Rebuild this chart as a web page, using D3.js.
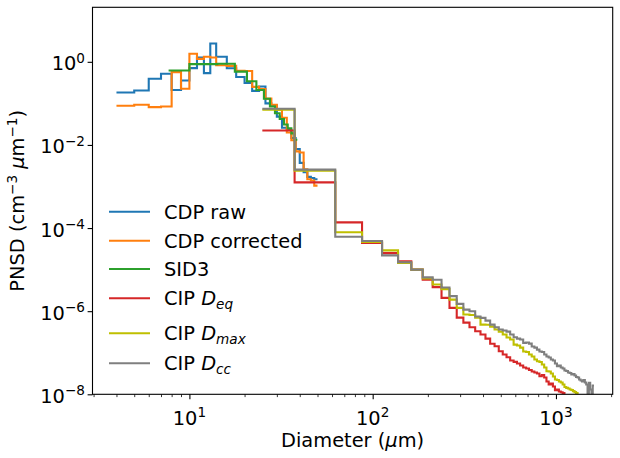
<!DOCTYPE html>
<html>
<head>
<meta charset="utf-8">
<title>PNSD</title>
<script src="https://d3js.org/d3.v7.min.js"></script>
<style>
  body { margin: 0; background: #fff; }
  text { font-family: "DejaVu Sans", sans-serif; fill: #000; }
</style>
</head>
<body>
<svg width="620" height="458"></svg>
<script>
// bin edges (um) and PNSD values (cm^-3 um^-1)
var cdpEdges = [4,5,6,7,8,9,10,11,12,13,14,16,18,20,22,24,26,28,30,32,34,36,38,40,42,44,46,48,50];
var cdpRaw = [0.183,0.204,0.39,0.515,0.209,0.355,0.706,1.27,0.535,2.75,1.32,0.70,0.43,0.31,0.20,
              0.255,0.10,0.089,0.048,0.026,0.023,0.0147,0.008,0.0037,0.0022,0.0017,0.0016,0.0015];
var cdpCorrected = [0.0875,0.0925,0.0814,0.084,0.565,0.224,1.56,1.18,1.32,1.27,0.83,0.80,0.61,0.60,0.25,
                    0.22,0.13,0.093,0.07,0.045,0.02,0.013,0.007,0.0066,0.0026,0.0015,0.0014,0.00105];

var sidEdges = [7.7,10,14.2,17.7,20.6,23.2,25.5,27.5,29.3,31.1,32.8,34.4,36,37.5,38.8];
var sid3 = [0.62,0.88,0.90,0.58,0.34,0.21,0.129,0.084,0.058,0.042,0.031,0.025,0.019,0.0133];

var cipEdges = [25,37.5,62.5,87.5,112.5,137.5,162.5,187.5,212.5,237.5,262.5,287.5,312.5,337.5,362.5,
  387.5,412.5,437.5,462.5,487.5,512.5,537.5,562.5,587.5,612.5,637.5,662.5,687.5,712.5,737.5,762.5,
  787.5,812.5,837.5,862.5,887.5,912.5,937.5,962.5,987.5,1012.5,1037.5,1062.5,1087.5,1112.5,1137.5,
  1162.5,1187.5,1212.5,1237.5,1262.5,1287.5,1312.5,1337.5,1362.5,1387.5,1412.5,1437.5,1462.5,1487.5,
  1512.5,1537.5,1562.5,1587.5,1612.5];
var cipDeq = [0.0223,1.26e-3,1.37e-4,4.4e-5,2.5e-5,1.58e-5,1e-5,5.7e-6,3.8e-6,2.09e-6,
  1.2e-6,7.0e-7,5.3e-7,4.1e-7,3.29e-7,2.74e-7,2.19e-7,1.64e-7,1.43e-7,1.09e-7,
  9.05e-8,7.8e-8,6.5e-8,6.04e-8,5.5e-8,4.92e-8,4.4e-8,4.17e-8,3.84e-8,3.53e-8,
  3.34e-8,3.16e-8,2.72e-8,2.91e-8,2.53e-8,2.03e-8,1.72e-8,1.82e-8,1.54e-8,1.26e-8,
  1.3e-8,1.17e-8,1.12e-8,1.07e-8,8e-9];
var cipDmax = [0.07,2.4e-3,7.9e-5,4.6e-5,2.9e-5,1.45e-5,1e-5,6.1e-6,4.4e-6,3.4e-6,
  1.9e-6,1.2e-6,8.3e-7,8.1e-7,7.0e-7,4.76e-7,4.7e-7,4.26e-7,3.61e-7,3.23e-7,
  2.74e-7,2.32e-7,2.08e-7,1.57e-7,1.49e-7,1.33e-7,1.07e-7,1.04e-7,9.05e-8,8.1e-8,
  6.87e-8,6.25e-8,5.97e-8,5.2e-8,4.4e-8,3.59e-8,3.53e-8,3.16e-8,2.68e-8,2.27e-8,
  2.21e-8,2.03e-8,1.92e-8,1.72e-8,1.5e-8,1.43e-8,1.38e-8,1.3e-8,1.27e-8,1.19e-8,
  1.13e-8,1.07e-8,8e-9];
var cipDcc = [0.074,2.54e-3,6.2e-5,4.9e-5,2.2e-5,1.5e-5,1e-5,6.5e-6,5.7e-6,3.7e-6,
  2.3e-6,1.5e-6,1.09e-6,9.95e-7,7.42e-7,6.9e-7,5.94e-7,4.76e-7,4.1e-7,3.61e-7,
  3.42e-7,3.23e-7,2.74e-7,2.36e-7,2.19e-7,2.08e-7,1.73e-7,1.76e-7,1.66e-7,1.41e-7,
  1.33e-7,1.19e-7,1.07e-7,1.04e-7,9.05e-8,8.1e-8,7.67e-8,6.87e-8,6.5e-8,5.5e-8,
  4.73e-8,4.92e-8,4.4e-8,4.17e-8,3.73e-8,3.63e-8,3.34e-8,3.25e-8,2.99e-8,3.05e-8,
  2.83e-8,2.6e-8,2.53e-8,2.27e-8,2.15e-8,2.03e-8,2.2e-8,1.92e-8,1.72e-8,0,
  1.9e-8,1.3e-8,0,1.63e-8];

var xTicks = [10, 100, 1000];
var xMinor = [3,4,5,6,7,8,9,20,30,40,50,60,70,80,90,200,300,400,500,600,700,800,900,2000];
var yTicks = [1e-8, 1e-6, 1e-4, 1e-2, 1];

var series = [
  {name: "CDP raw", edges: cdpEdges, values: cdpRaw, color: "#1f77b4"},
  {name: "CDP corrected", edges: cdpEdges, values: cdpCorrected, color: "#ff7f0e"},
  {name: "SID3", edges: sidEdges, values: sid3, color: "#2ca02c"},
  {name: "CIP", sub: "eq", edges: cipEdges, values: cipDeq, color: "#d62728"},
  {name: "CIP", sub: "max", edges: cipEdges, values: cipDmax, color: "#bfbf00"},
  {name: "CIP", sub: "cc", edges: cipEdges, values: cipDcc, color: "#7f7f7f"}
];

var svg = d3.select("svg");
var pLeft = 92.5, pRight = 612.7, pTop = 7.3, pBottom = 394.3;
var fs = "19.4px", fsSmall = "13.6px";

var x = d3.scaleLog().domain([2.96, 2040]).range([pLeft, pRight]);
var y = d3.scaleLog().domain([1e-8, 20.5]).range([pBottom, pTop]);

svg.append("defs").append("clipPath").attr("id", "plotclip")
  .append("rect").attr("x", pLeft).attr("y", pTop)
  .attr("width", pRight - pLeft).attr("height", pBottom - pTop);

var line = d3.line()
  .x(function(d) { return x(d[0]); })
  .y(function(d) { return y(Math.max(d[1], 1e-12)); })
  .curve(d3.curveStepAfter);

function stepPoints(s) {
  var pts = s.values.map(function(v, i) { return [s.edges[i], v]; });
  pts.push([s.edges[s.values.length], s.values[s.values.length - 1]]);
  return pts;
}

var plot = svg.append("g").attr("clip-path", "url(#plotclip)");
series.forEach(function(s) {
  plot.append("path")
    .attr("d", line(stepPoints(s)))
    .attr("fill", "none")
    .attr("stroke", s.color)
    .attr("stroke-width", 2.1)
    .attr("stroke-linejoin", "miter")
    .attr("stroke-linecap", "butt");
});

// axes
function powLabel(sel, exp, anchor) {
  sel.attr("text-anchor", anchor);
  sel.append("tspan").text("10");
  sel.append("tspan").attr("font-size", fsSmall).attr("dy", -7.5).text(exp);
}

var xAxis = svg.append("g").attr("transform", "translate(0," + pBottom + ")")
  .call(d3.axisBottom(x).tickValues(xTicks).tickSize(4.9).tickFormat(""));
var xMinorAxis = svg.append("g").attr("transform", "translate(0," + pBottom + ")")
  .call(d3.axisBottom(x).tickValues(xMinor).tickSize(2.8).tickFormat(""));
var yAxis = svg.append("g").attr("transform", "translate(" + pLeft + ",0)")
  .call(d3.axisLeft(y).tickValues(yTicks).tickSize(4.9).tickFormat(""));

[xAxis, xMinorAxis, yAxis].forEach(function(g) {
  g.select(".domain").remove();
  g.selectAll(".tick line").attr("stroke", "#000").attr("stroke-width", 1.1);
});
xMinorAxis.selectAll(".tick line").attr("stroke-width", 0.8);

xTicks.forEach(function(t) {
  svg.append("text").attr("x", x(t)).attr("y", 424.5).attr("font-size", fs)
    .call(powLabel, String(Math.round(Math.log10(t))), "middle");
});
yTicks.forEach(function(t) {
  var e = Math.round(Math.log10(t));
  svg.append("text").attr("x", 85).attr("y", y(t) + 8.5).attr("font-size", fs)
    .call(powLabel, e < 0 ? "\u2212" + (-e) : String(e), "end");
});

// frame
svg.append("rect").attr("x", pLeft).attr("y", pTop)
  .attr("width", pRight - pLeft).attr("height", pBottom - pTop)
  .attr("fill", "none").attr("stroke", "#000").attr("stroke-width", 1.1);

// axis labels
var xl = svg.append("text").attr("x", (pLeft + pRight) / 2).attr("y", 447)
  .attr("text-anchor", "middle").attr("font-size", fs);
xl.append("tspan").text("Diameter (");
xl.append("tspan").attr("font-style", "italic").text("\u03bc");
xl.append("tspan").text("m)");

var yl = svg.append("text")
  .attr("transform", "translate(24," + (pTop + pBottom) / 2 + ") rotate(-90)")
  .attr("text-anchor", "middle").attr("font-size", fs);
yl.append("tspan").text("PNSD (cm");
yl.append("tspan").attr("font-size", fsSmall).attr("dy", -7.5).text("\u22123");
yl.append("tspan").attr("dy", 7.5).text(" ");
yl.append("tspan").attr("font-style", "italic").text("\u03bc");
yl.append("tspan").text("m");
yl.append("tspan").attr("font-size", fsSmall).attr("dy", -7.5).text("\u22121");
yl.append("tspan").attr("dy", 7.5).text(")");

// legend
var legendY = [211.7, 240.7, 269, 298.3, 333.3, 363.3];
series.forEach(function(s, i) {
  var ly = legendY[i];
  svg.append("line").attr("x1", 109).attr("x2", 150).attr("y1", ly).attr("y2", ly)
    .attr("stroke", s.color).attr("stroke-width", 2.1);
  var t = svg.append("text").attr("x", 164).attr("y", ly + 7).attr("font-size", fs);
  t.append("tspan").text(s.name);
  if (s.sub) {
    t.append("tspan").text(" ");
    t.append("tspan").attr("font-style", "italic").text("D");
    t.append("tspan").attr("font-style", "italic").attr("font-size", fsSmall)
      .attr("dy", 4).text(s.sub);
  }
});
</script>
</body>
</html>
